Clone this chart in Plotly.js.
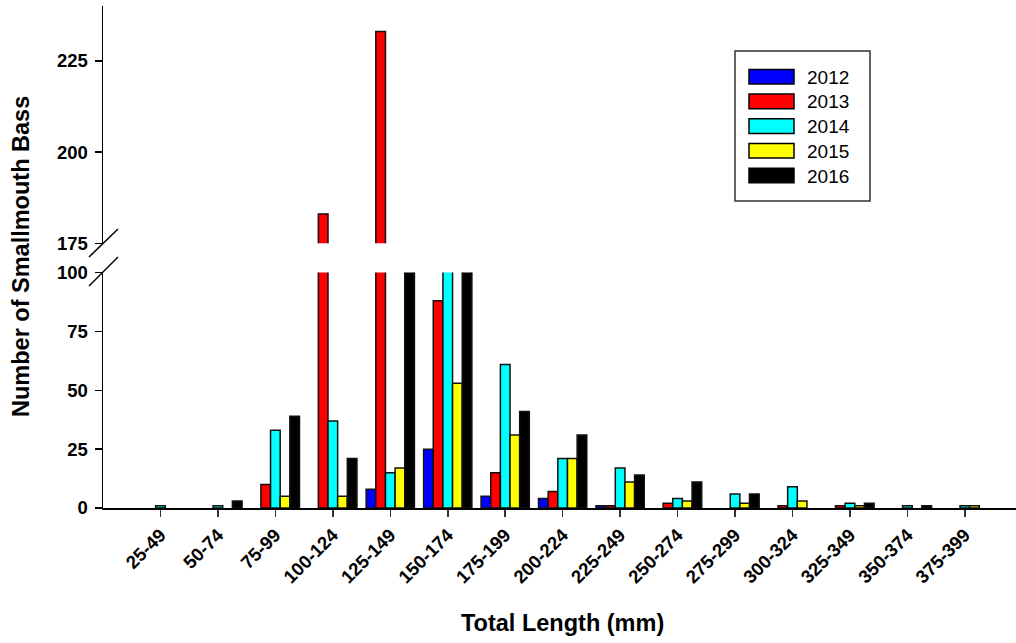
<!DOCTYPE html>
<html>
<head>
<meta charset="utf-8">
<script src="https://cdn.plot.ly/plotly-3.0.1.min.js"></script>
<style>html,body{margin:0;padding:0;background:#fff;}#chart{width:1016px;height:643px;}</style>
</head>
<body>
<div id="chart"></div>
<script>
// ---- data ----
const categories = ['25-49','50-74','75-99','100-124','125-149','150-174','175-199','200-224','225-249','250-274','275-299','300-324','325-349','350-374','375-399'];
const years = ['2012','2013','2014','2015','2016'];
const colors = ['#0000FF','#FF0000','#00FFFF','#FFFF00','#000000'];
const v2012 = [0,0,0,0,8,25,5,4,1,0,0,0,0,0,0];
const v2013 = [0,0,10,183,233,88,15,7,1,2,0,1,1,0,0];
const v2014 = [1,1,33,37,15,150,61,21,17,4,6,9,2,1,1];
const v2015 = [0,0,5,5,17,53,31,21,11,3,2,3,1,0,1];
const v2016 = [0,3,39,21,120,135,41,31,14,11,6,0,2,1,0];
const series = [v2012,v2013,v2014,v2015,v2016];
const lowerTicks = [0,25,50,75,100];
const upperTicks = [175,200,225];

// ---- geometry helpers (pixel -> paper) ----
const W = 1016, H = 643;
const M = {l:103, r:0, t:6, b:135};
const PW = W - M.l - M.r, PH = H - M.t - M.b;
const px = x => (x - M.l) / PW;
const py = y => (H - M.b - y) / PH;

const FONT = 'Arial, "Liberation Sans", sans-serif';

const traces = [];
series.forEach((vals, i) => {
  // zero counts draw no bar
  const shown = vals.map(v => v === 0 ? null : v);
  ['y','y2'].forEach(ax => {
    traces.push({
      type:'bar', x:categories, y:shown, name:years[i], yaxis:ax, xaxis:'x',
      marker:{color:colors[i], line:{color:'#111', width:1.5}},
      showlegend:false, hoverinfo:'x+y+name'
    });
  });
});

const shapes = [];
const annotations = [];
// axis break slashes
shapes.push({type:'line', xref:'paper', yref:'paper', x0:px(89), y0:py(257), x1:px(118), y1:py(229), line:{color:'#000', width:1.5}});
shapes.push({type:'line', xref:'paper', yref:'paper', x0:px(89), y0:py(286), x1:px(118), y1:py(257), line:{color:'#000', width:1.5}});
// legend box
shapes.push({type:'rect', xref:'paper', yref:'paper', x0:px(735), y0:py(51), x1:px(870), y1:py(201), line:{color:'#333', width:1.5}, fillcolor:'rgba(255,255,255,0)'});
years.forEach((yr, i) => {
  const c = 76.7 + i*24.7;
  shapes.push({type:'rect', xref:'paper', yref:'paper', x0:px(749), y0:py(c-7.3), x1:px(794), y1:py(c+7.3), line:{color:'#000', width:1.5}, fillcolor:colors[i]});
  annotations.push({xref:'paper', yref:'paper', x:px(805), y:py(c+0.5), xanchor:'left', yanchor:'middle', text:yr, showarrow:false, font:{family:FONT, size:19, color:'#000'}});
});
// axis titles
annotations.push({xref:'paper', yref:'paper', x:px(21), y:py(257), textangle:-90, xanchor:'center', yanchor:'middle', text:'Number of Smallmouth Bass', showarrow:false, font:{family:FONT, size:23.5, color:'#000', weight:'bold'}});
annotations.push({xref:'paper', yref:'paper', x:px(562), y:py(623), xanchor:'center', yanchor:'middle', text:'Total Length (mm)', showarrow:false, font:{family:FONT, size:23.5, color:'#000', weight:'bold'}});

const tickFont = {family:FONT, size:18.5, color:'#000', weight:'bold'};
const layout = {
  width:W, height:H, margin:M,
  paper_bgcolor:'#fff', plot_bgcolor:'#fff',
  barmode:'group', bargap:0.16, bargroupgap:0,
  showlegend:false,
  xaxis:{type:'category', range:[-1, 14.89], showline:true, linecolor:'#000', linewidth:2,
    ticks:'outside', ticklen:7, tickwidth:1.5, tickcolor:'#333', tickangle:-45, tickfont:tickFont,
    showgrid:false, zeroline:false, anchor:'y', fixedrange:true},
  yaxis:{domain:[0, py(272.6)], range:[0,100], tickvals:lowerTicks, ticktext:lowerTicks.map(String),
    showline:true, linecolor:'#000', linewidth:1.5, ticks:'outside', ticklen:7, tickwidth:1.5, tickcolor:'#000',
    tickfont:tickFont, showgrid:false, zeroline:false, anchor:'x', ticklabelstandoff:3},
  yaxis2:{domain:[py(243.3), 1], range:[175,240], tickvals:upperTicks, ticktext:upperTicks.map(String),
    showline:true, linecolor:'#000', linewidth:1.5, ticks:'outside', ticklen:7, tickwidth:1.5, tickcolor:'#000',
    tickfont:tickFont, showgrid:false, zeroline:false, anchor:'x', ticklabelstandoff:3},
  shapes:shapes, annotations:annotations
};
Plotly.newPlot('chart', traces, layout, {staticPlot:true, displayModeBar:false});
</script>
</body>
</html>
